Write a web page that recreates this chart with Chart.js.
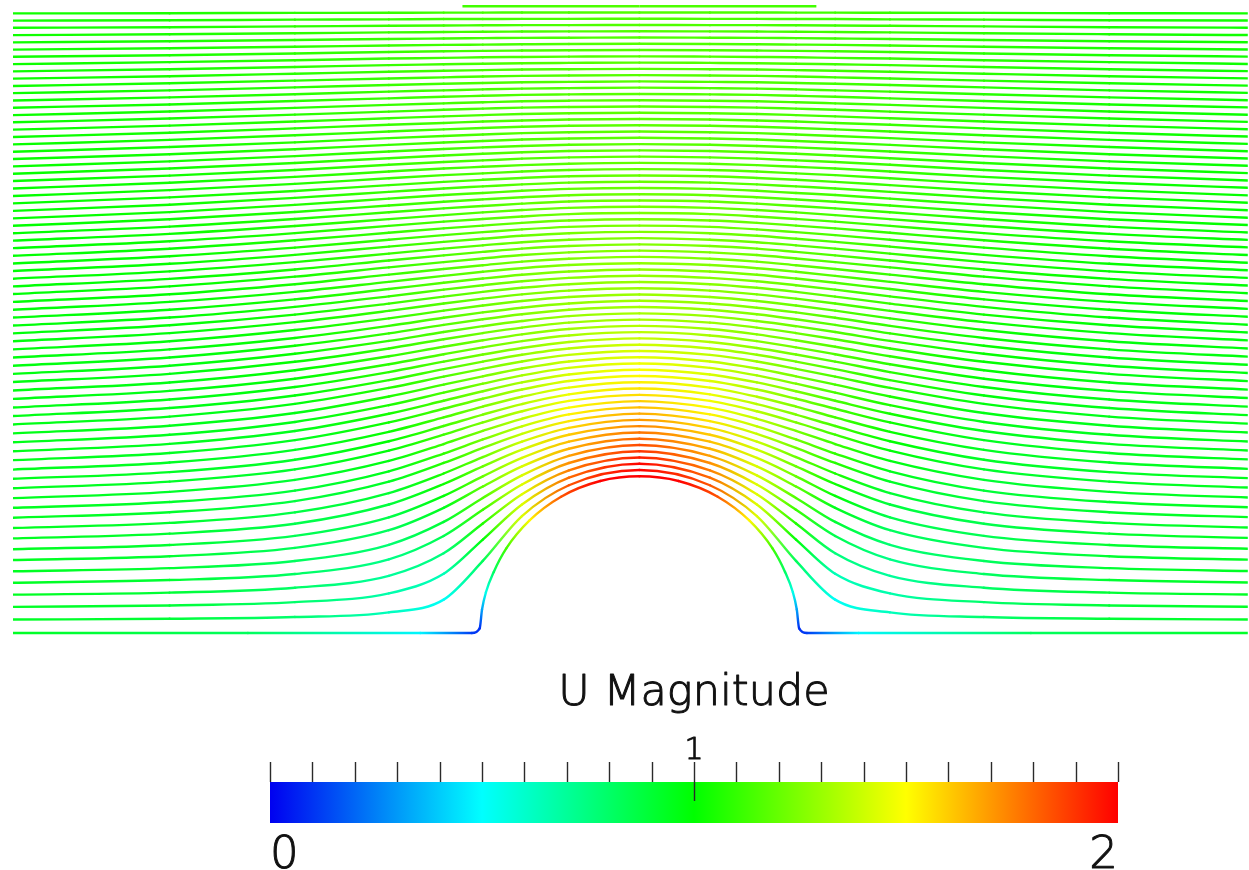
<!DOCTYPE html>
<html>
<head>
<meta charset="utf-8">
<title>U Magnitude streamlines</title>
<script src="https://cdn.jsdelivr.net/npm/chart.js@4.4.0/dist/chart.umd.min.js"></script>
<style>
    html, body { margin: 0; padding: 0; background: #fff; }
    #wrap { width: 1249px; height: 870px; }
</style>
</head>
<body>
<div id="wrap"><canvas id="flowChart" width="1249" height="870"></canvas></div>
<script>
// cylinder of radius 1 centred at the origin; x stations of the left half (right half is its mirror)
const stations = [-4, -3, -2.2, -1.6, -1.25, -1, -0.75, -0.45, 0];

// height of each streamline at the stations, from the lowest one up
const streamY = [
    [0.086, 0.091, 0.102, 0.132, 0.213, 0.460, 0.746, 0.943, 1.04],
    [0.167, 0.176, 0.197, 0.253, 0.378, 0.596, 0.820, 0.991, 1.08],
    [0.245, 0.258, 0.289, 0.365, 0.509, 0.699, 0.886, 1.038, 1.12],
    [0.321, 0.338, 0.377, 0.470, 0.619, 0.786, 0.948, 1.085, 1.16],
    [0.394, 0.414, 0.460, 0.563, 0.709, 0.862, 1.006, 1.131, 1.20],
    [0.466, 0.490, 0.543, 0.656, 0.799, 0.935, 1.063, 1.176, 1.24],
    [0.535, 0.562, 0.620, 0.738, 0.875, 1.000, 1.117, 1.221, 1.28],
    [0.604, 0.634, 0.697, 0.820, 0.951, 1.064, 1.170, 1.265, 1.32],
    [0.670, 0.703, 0.770, 0.893, 1.018, 1.123, 1.221, 1.309, 1.36],
    [0.736, 0.771, 0.842, 0.966, 1.085, 1.181, 1.271, 1.352, 1.40],
    [0.799, 0.836, 0.909, 1.032, 1.145, 1.235, 1.319, 1.395, 1.44],
    [0.861, 0.901, 0.977, 1.098, 1.206, 1.290, 1.367, 1.438, 1.48],
    [0.924, 0.966, 1.044, 1.164, 1.266, 1.344, 1.415, 1.481, 1.52],
    [0.984, 1.027, 1.106, 1.224, 1.321, 1.394, 1.461, 1.523, 1.56],
    [1.043, 1.088, 1.169, 1.284, 1.376, 1.445, 1.508, 1.566, 1.60],
    [1.103, 1.149, 1.231, 1.344, 1.431, 1.495, 1.554, 1.608, 1.64],
    [1.160, 1.207, 1.289, 1.399, 1.482, 1.543, 1.599, 1.650, 1.68],
    [1.217, 1.265, 1.347, 1.454, 1.534, 1.591, 1.644, 1.692, 1.72],
    [1.274, 1.323, 1.404, 1.509, 1.585, 1.638, 1.688, 1.733, 1.76],
    [1.331, 1.381, 1.462, 1.564, 1.636, 1.686, 1.733, 1.775, 1.80],
    [1.385, 1.436, 1.516, 1.614, 1.684, 1.732, 1.776, 1.816, 1.84],
    [1.439, 1.490, 1.570, 1.665, 1.732, 1.777, 1.819, 1.857, 1.88],
    [1.494, 1.545, 1.623, 1.715, 1.779, 1.823, 1.863, 1.899, 1.92],
    [1.548, 1.599, 1.677, 1.766, 1.827, 1.868, 1.906, 1.940, 1.96],
    [1.602, 1.654, 1.731, 1.816, 1.875, 1.914, 1.949, 1.981, 2.00],
    [1.654, 1.706, 1.782, 1.864, 1.921, 1.958, 1.991, 2.022, 2.04],
    [1.706, 1.758, 1.833, 1.912, 1.966, 2.002, 2.034, 2.063, 2.08],
    [1.758, 1.810, 1.883, 1.960, 2.012, 2.046, 2.076, 2.103, 2.12],
    [1.810, 1.862, 1.934, 2.008, 2.057, 2.090, 2.119, 2.144, 2.16],
    [1.862, 1.914, 1.984, 2.056, 2.103, 2.134, 2.161, 2.185, 2.20],
    [1.912, 1.964, 2.032, 2.102, 2.147, 2.177, 2.203, 2.226, 2.24],
    [1.962, 2.013, 2.081, 2.148, 2.191, 2.219, 2.245, 2.266, 2.28],
    [2.013, 2.063, 2.129, 2.195, 2.235, 2.262, 2.286, 2.307, 2.32],
    [2.063, 2.113, 2.177, 2.241, 2.279, 2.305, 2.328, 2.348, 2.36],
    [2.113, 2.162, 2.226, 2.287, 2.323, 2.347, 2.370, 2.388, 2.40],
    [2.163, 2.212, 2.274, 2.333, 2.367, 2.390, 2.412, 2.429, 2.44],
    [2.212, 2.260, 2.320, 2.377, 2.410, 2.432, 2.453, 2.470, 2.48],
    [2.261, 2.308, 2.367, 2.421, 2.453, 2.474, 2.494, 2.510, 2.52],
    [2.310, 2.356, 2.413, 2.466, 2.496, 2.516, 2.535, 2.551, 2.56],
    [2.358, 2.404, 2.459, 2.510, 2.539, 2.558, 2.576, 2.592, 2.60],
    [2.407, 2.452, 2.506, 2.554, 2.582, 2.600, 2.617, 2.632, 2.64],
    [2.456, 2.500, 2.552, 2.598, 2.625, 2.642, 2.658, 2.673, 2.68],
    [2.504, 2.547, 2.597, 2.641, 2.667, 2.684, 2.699, 2.713, 2.72],
    [2.551, 2.593, 2.642, 2.685, 2.710, 2.725, 2.740, 2.754, 2.76],
    [2.599, 2.640, 2.687, 2.728, 2.752, 2.767, 2.781, 2.794, 2.80],
    [2.646, 2.686, 2.732, 2.772, 2.795, 2.808, 2.822, 2.834, 2.84],
    [2.694, 2.733, 2.777, 2.815, 2.837, 2.850, 2.863, 2.874, 2.88],
    [2.742, 2.780, 2.821, 2.858, 2.879, 2.892, 2.904, 2.915, 2.92],
    [2.789, 2.826, 2.866, 2.902, 2.922, 2.933, 2.945, 2.955, 2.96],
    [2.837, 2.873, 2.911, 2.945, 2.964, 2.975, 2.986, 2.995, 3.00],
    [2.884, 2.919, 2.955, 2.988, 3.006, 3.016, 3.027, 3.035, 3.04],
    [2.931, 2.964, 2.999, 3.030, 3.047, 3.058, 3.068, 3.076, 3.08],
    [2.978, 3.010, 3.043, 3.073, 3.089, 3.099, 3.108, 3.116, 3.12],
    [3.025, 3.055, 3.087, 3.115, 3.130, 3.140, 3.149, 3.156, 3.16],
    [3.071, 3.101, 3.131, 3.158, 3.172, 3.181, 3.190, 3.196, 3.20],
    [3.118, 3.147, 3.176, 3.200, 3.214, 3.223, 3.231, 3.237, 3.24],
    [3.165, 3.192, 3.220, 3.243, 3.255, 3.264, 3.271, 3.277, 3.28],
    [3.212, 3.238, 3.264, 3.285, 3.297, 3.305, 3.312, 3.317, 3.32],
    [3.259, 3.283, 3.308, 3.327, 3.339, 3.346, 3.353, 3.357, 3.36],
    [3.305, 3.328, 3.351, 3.370, 3.380, 3.387, 3.393, 3.397, 3.40],
    [3.352, 3.373, 3.395, 3.412, 3.422, 3.428, 3.434, 3.437, 3.44],
    [3.398, 3.418, 3.438, 3.455, 3.463, 3.469, 3.474, 3.477, 3.48],
    [3.445, 3.463, 3.482, 3.497, 3.505, 3.510, 3.515, 3.517, 3.52],
    [3.491, 3.508, 3.525, 3.539, 3.546, 3.551, 3.555, 3.558, 3.56],
    [3.538, 3.553, 3.569, 3.582, 3.588, 3.592, 3.596, 3.598, 3.60],
    [3.584, 3.598, 3.612, 3.624, 3.629, 3.633, 3.636, 3.638, 3.64],
    [3.630, 3.643, 3.655, 3.666, 3.670, 3.674, 3.676, 3.678, 3.68],
    [3.677, 3.687, 3.698, 3.708, 3.712, 3.715, 3.717, 3.719, 3.72],
    [3.723, 3.732, 3.741, 3.749, 3.753, 3.755, 3.757, 3.759, 3.76],
    [3.769, 3.776, 3.784, 3.791, 3.794, 3.796, 3.798, 3.799, 3.80],
    [3.815, 3.821, 3.827, 3.833, 3.835, 3.837, 3.838, 3.839, 3.84],
    [3.862, 3.866, 3.871, 3.875, 3.877, 3.878, 3.879, 3.879, 3.88],
    [3.908, 3.910, 3.914, 3.916, 3.918, 3.918, 3.919, 3.919, 3.92],
    [3.954, 3.955, 3.957, 3.958, 3.959, 3.959, 3.960, 3.960, 3.96]
];

// the dividing streamline: along the floor, then up the cylinder face (left half)
const stagnationLine = [
    [-4, 0], [-2.5, 0], [-1.4, 0], [-1.07, 0], [-1.02, 0.03], [-1.005, 0.15], [-0.98, 0.26],
    [-0.93, 0.39], [-0.85, 0.54], [-0.7, 0.72], [-0.5, 0.87], [-0.25, 0.97], [0, 1]
];

// short trace lying on the top wall
const wallLine = [[-1.13, 4], [0, 4], [1.13, 4]];

const speedRadius = [1.0, 1.1, 1.25, 1.5, 2.0, 3.0, 4.5, 6.0];
const speedAngle = [0, 15, 30, 45, 60, 75, 90];
const speedTable = [
    [0.00, 0.55, 1.06, 1.50, 1.84, 2.05, 2.10],
    [0.17, 0.53, 0.99, 1.39, 1.70, 1.90, 1.97],
    [0.36, 0.58, 0.93, 1.28, 1.55, 1.73, 1.80],
    [0.56, 0.67, 0.90, 1.16, 1.38, 1.52, 1.58],
    [0.75, 0.80, 0.92, 1.08, 1.22, 1.30, 1.33],
    [0.89, 0.91, 0.96, 1.04, 1.11, 1.16, 1.19],
    [0.95, 0.96, 0.99, 1.03, 1.08, 1.12, 1.14],
    [0.97, 0.98, 1.00, 1.03, 1.06, 1.08, 1.10]
];

// colour bar
const barRange = [0, 2];
const barStops = [0, 0.5, 1, 1.5, 2];
const barColors = ['#0000f0', '#00ffff', '#00ff00', '#ffff00', '#ff0000'];
const barLabels = ['0', '1', '2'];
const barTickCount = 21;
const barTitle = 'U Magnitude';

function hexToRgb(hex) {
    const n = parseInt(hex.slice(1), 16);
    return [(n >> 16) & 255, (n >> 8) & 255, n & 255];
}
const barRgb = barColors.map(hexToRgb);

function colorFor(v) {
    v = Math.max(barRange[0], Math.min(barRange[1], v));
    let i = 0;
    while (i < barStops.length - 2 && v > barStops[i + 1]) i++;
    const t = (v - barStops[i]) / (barStops[i + 1] - barStops[i]);
    const a = barRgb[i], b = barRgb[i + 1];
    const c = a.map((ch, j) => Math.round(ch + (b[j] - ch) * t));
    return `rgb(${c[0]},${c[1]},${c[2]})`;
}

function bracket(arr, v) {
    v = Math.max(arr[0], Math.min(arr[arr.length - 1], v));
    let i = 0;
    while (i < arr.length - 2 && v > arr[i + 1]) i++;
    return [i, (v - arr[i]) / (arr[i + 1] - arr[i])];
}

function speedAt(x, y) {
    const r = Math.hypot(x, y);
    const ang = Math.atan2(Math.abs(y), Math.abs(x)) * 180 / Math.PI;
    const [i, tr] = bracket(speedRadius, r);
    const [j, ta] = bracket(speedAngle, ang);
    const s0 = speedTable[i][j] * (1 - ta) + speedTable[i][j + 1] * ta;
    const s1 = speedTable[i + 1][j] * (1 - ta) + speedTable[i + 1][j + 1] * ta;
    return s0 * (1 - tr) + s1 * tr;
}

function mirrored(half) {
    const pts = half.map(([x, y]) => ({ x, y }));
    for (let i = half.length - 2; i >= 0; i--) pts.push({ x: -half[i][0], y: half[i][1] });
    return pts;
}

let flowChart = null;

function segmentColor(ctx) {
    const chart = flowChart;
    if (!chart) return '#00ff00';
    const xs = chart.scales.x, ys = chart.scales.y;
    const p0 = ctx.p0, p1 = ctx.p1;
    const v0 = speedAt(xs.getValueForPixel(p0.x), ys.getValueForPixel(p0.y));
    const v1 = speedAt(xs.getValueForPixel(p1.x), ys.getValueForPixel(p1.y));
    const g = chart.ctx.createLinearGradient(p0.x, p0.y, p1.x + 0.01, p1.y);
    g.addColorStop(0, colorFor(v0));
    g.addColorStop(1, colorFor(v1));
    return g;
}

const lines = [stagnationLine, ...streamY.map(row => stations.map((x, j) => [x, row[j]]))];
const datasets = lines.map(half => ({
    data: mirrored(half),
    borderWidth: 2.4,
    borderCapStyle: 'round',
    borderJoinStyle: 'round',
    pointRadius: 0,
    cubicInterpolationMode: 'monotone',
    segment: { borderColor: segmentColor }
}));
datasets.push({
    data: wallLine.map(([x, y]) => ({ x, y })),
    borderWidth: 2.4,
    pointRadius: 0,
    segment: { borderColor: segmentColor }
});

function label(c, text, x, y, size, align) {
    c.font = `200 ${size}px "DejaVu Sans"`;
    c.textAlign = align;
    c.fillText(text, x, y);
    c.strokeText(text, x, y);
}

const colorBar = {
    id: 'colorBar',
    afterDraw(chart) {
        const c = chart.ctx;
        const left = 270, right = 1118, top = 782, bottom = 823;
        const span = barRange[1] - barRange[0];
        const grad = c.createLinearGradient(left, 0, right, 0);
        barStops.forEach((s, i) => grad.addColorStop((s - barRange[0]) / span, barColors[i]));
        c.save();
        c.fillStyle = grad;
        c.fillRect(left, top, right - left, bottom - top);

        c.strokeStyle = '#2a2a2a';
        c.lineWidth = 1.4;
        const mid = (barTickCount - 1) / 2;
        for (let i = 0; i < barTickCount; i++) {
            const px = Math.round(left + (right - left) * i / (barTickCount - 1)) + 0.5;
            c.beginPath();
            c.moveTo(px, 762);
            c.lineTo(px, i === mid ? 801 : top);
            c.stroke();
        }

        c.fillStyle = '#111';
        c.strokeStyle = '#111';
        c.lineWidth = 1;
        c.lineJoin = 'round';
        c.textBaseline = 'alphabetic';
        label(c, barTitle, 694, 705, 43, 'center');
        label(c, barLabels[1], left + (right - left) / 2, 759, 30, 'center');
        label(c, barLabels[0], left, 868, 45, 'left');
        label(c, barLabels[2], right, 868, 45, 'right');
        c.restore();
    }
};

flowChart = new Chart(document.getElementById('flowChart').getContext('2d'), {
    type: 'line',
    data: { datasets },
    options: {
        responsive: false,
        animation: false,
        events: [],
        layout: { padding: { left: 13, right: 0, top: 0, bottom: 225 } },
        scales: {
            x: { type: 'linear', min: -4, max: 3.885, display: false },
            y: { type: 'linear', min: -0.0764, max: 4.0318, display: false }
        },
        plugins: { legend: { display: false }, tooltip: { enabled: false } }
    },
    plugins: [colorBar]
});
flowChart.update();
</script>
</body>
</html>
